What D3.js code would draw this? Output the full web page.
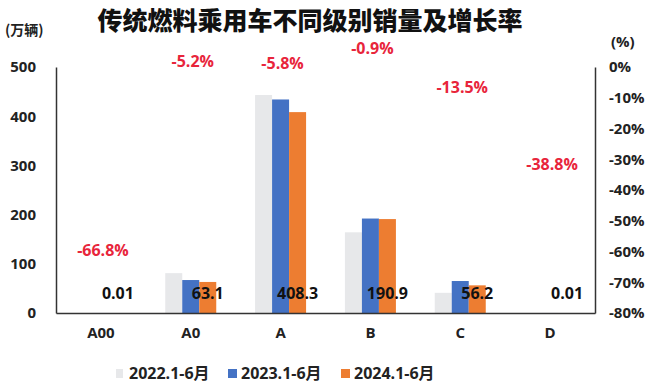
<!DOCTYPE html>
<html><head><meta charset="utf-8">
<script src="https://cdn.jsdelivr.net/npm/d3@7/dist/d3.min.js"></script>
<style>body{margin:0;background:#fff}svg{display:block}text{font-family:"Open Sans","Noto Sans CJK SC",sans-serif;font-weight:700}</style>
</head><body><svg id="c" width="660" height="386"></svg>
<script>
const categories = ["A00","A0","A","B","C","D"];
const seriesNames = ["2022.1-6月","2023.1-6月","2024.1-6月"];
const s2022 = [0.03, 81, 443, 164, 41, 0.02];
const s2023 = [0.03, 67, 434, 192, 65, 0.016];
const s2024 = [0.01, 63.1, 408.3, 190.9, 56.2, 0.01];
const growth = [-66.8, -5.2, -5.8, -0.9, -13.5, -38.8];
const leftTicks = [0,100,200,300,400,500];
const rightTicks = [0,-10,-20,-30,-40,-50,-60,-70,-80];
const colors = ["#e7e8ea","#4472c4","#ed7d31"];

const svg = d3.select("#c");
const L=56, R=595, T=67, B=313;
const x = d3.scaleBand().domain(categories).range([L,R]);
const x1 = d3.scaleBand().domain(seriesNames).range([-25.5,25.5]);
const y = d3.scaleLinear().domain([0,500]).range([B,T]);
const y2 = d3.scaleLinear().domain([-80,0]).range([B,T]);

svg.append("text").attr("x",310).attr("y",29.5).attr("text-anchor","middle")
  .attr("font-size",25).attr("fill","#111").style("font-family","'Noto Sans CJK SC',sans-serif").style("font-weight",900)
  .text("传统燃料乘用车不同级别销量及增长率");
svg.append("text").attr("x",5).attr("y",35).attr("font-size",14).attr("fill","#222")
  .style("font-family","'Noto Sans CJK SC',sans-serif").text("(万辆)");
svg.append("text").attr("x",611).attr("y",47).attr("font-size",15).attr("fill","#222").text("(%)");

const data = [s2022,s2023,s2024];
const g = svg.append("g");
data.forEach((arr,si)=>{
  g.selectAll(null).data(arr).enter().append("rect")
    .attr("x",(d,i)=>x(categories[i])+x.bandwidth()/2+x1(seriesNames[si]))
    .attr("width",x1.bandwidth())
    .attr("y",d=>y(d)).attr("height",d=>B-y(d)).attr("fill",colors[si]);
});

// left axis
const ax = svg.append("g").attr("transform",`translate(${L},0)`)
  .call(d3.axisLeft(y).tickValues(leftTicks).tickSize(0).tickPadding(20).tickSizeOuter(0));
ax.select(".domain").attr("stroke","#333").attr("stroke-width",1.5);
ax.selectAll("text").attr("font-size",15).attr("fill","#222");
// right axis
const ar = svg.append("g").attr("transform",`translate(${R},0)`)
  .call(d3.axisRight(y2).tickValues(rightTicks).tickSize(0).tickPadding(14).tickSizeOuter(0).tickFormat(d=>d+"%"));
ar.select(".domain").attr("stroke","#333").attr("stroke-width",1.5);
ar.selectAll("text").attr("font-size",15).attr("fill","#222");
// bottom axis
const ab = svg.append("g").attr("transform",`translate(0,${B})`)
  .call(d3.axisBottom(x).tickSize(0).tickPadding(14).tickSizeOuter(0));
ab.select(".domain").attr("stroke","#333").attr("stroke-width",1.5);
ab.selectAll("text").attr("font-size",15).attr("fill","#222");

// value labels (2024)
svg.selectAll(null).data(s2024).enter().append("text")
  .attr("x",(d,i)=>x(categories[i])+x.bandwidth()/2+x1(seriesNames[2])+x1.bandwidth()/2)
  .attr("y",B-14).attr("text-anchor","middle").attr("font-size",16).attr("fill","#111")
  .text(d=>d);

// growth labels
svg.selectAll(null).data(growth).enter().append("text")
  .attr("x",(d,i)=>x(categories[i])+x.bandwidth()/2+2)
  .attr("y",d=>y2(d)-16).attr("text-anchor","middle").attr("font-size",16).attr("fill","#e8253b")
  .text(d=>d.toFixed(1)+"%");

// legend
const lg = svg.append("g");
const lx = [116,228,341];
seriesNames.forEach((n,i)=>{
  lg.append("rect").attr("x",lx[i]).attr("y",369).attr("width",i===0?7:9).attr("height",9).attr("fill",colors[i]);
  lg.append("text").attr("x",lx[i]+13).attr("y",379).attr("font-size",16).attr("fill","#222")
    .style("font-family","'Open Sans','Noto Sans CJK SC',sans-serif").text(n);
});
</script></body></html>
